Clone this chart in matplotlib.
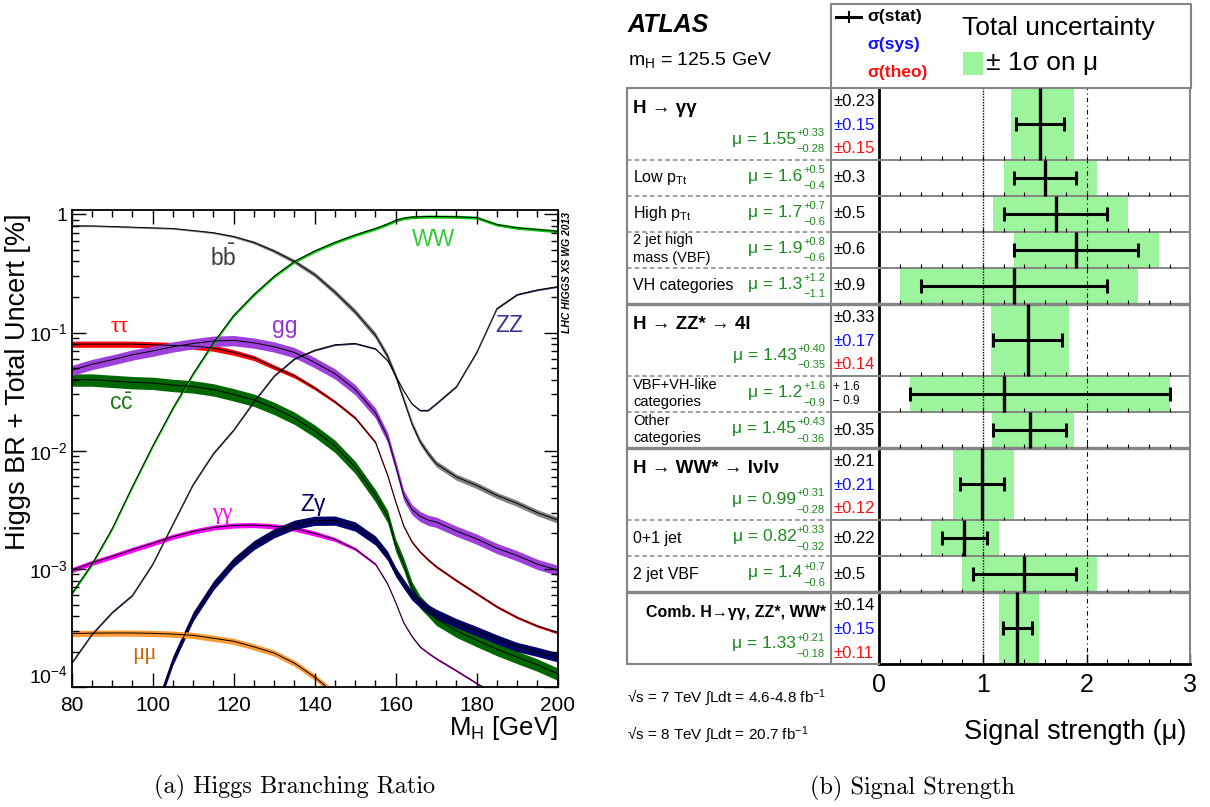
import numpy as np
import matplotlib
matplotlib.use('Agg')
import matplotlib.pyplot as plt
from matplotlib.patches import Rectangle
from matplotlib.ticker import (FixedLocator, FixedFormatter, MultipleLocator,
                               LogLocator, NullFormatter)

plt.rcParams['font.family'] = ['Liberation Sans', 'DejaVu Sans']
plt.rcParams['mathtext.fontset'] = 'custom'
plt.rcParams['mathtext.rm'] = 'Liberation Sans'
plt.rcParams['mathtext.it'] = 'Liberation Sans:italic'
plt.rcParams['mathtext.bf'] = 'Liberation Sans:bold'
plt.rcParams['mathtext.default'] = 'regular'

nan = np.nan

# ---------------- (a) Higgs branching ratios vs mass ----------------
mass = [80, 85, 90, 95, 100, 105, 110, 115, 120, 125, 130, 135, 140, 145, 150,
        155, 158, 160, 162, 164, 166, 168, 170, 175, 180, 185, 190, 195, 200]

br_bb = [0.80, 0.80, 0.79, 0.78, 0.77, 0.76, 0.73, 0.70, 0.65, 0.58, 0.49, 0.40,
         0.31, 0.22, 0.15, 0.095, 0.063, 0.043, 0.027, 0.017, 0.012, 0.0095,
         0.0078, 0.0060, 0.0051, 0.0042, 0.0036, 0.0030, 0.0026]
br_tautau = [0.080, 0.080, 0.080, 0.080, 0.079, 0.078, 0.077, 0.074, 0.068, 0.061,
             0.051, 0.043, 0.034, 0.026, 0.019, 0.0118, 0.0062, 0.0037, 0.0023,
             0.0017, 0.0014, 0.0012, 0.00105, 8.0e-4, 6.2e-4, 4.8e-4, 3.9e-4,
             3.3e-4, 2.9e-4]
br_gg = [0.048, 0.054, 0.059, 0.065, 0.070, 0.076, 0.081, 0.085, 0.086, 0.082,
         0.076, 0.068, 0.056, 0.045, 0.033, 0.021, 0.013, 0.0075, 0.0042, 0.0032,
         0.0028, 0.0026, 0.0025, 0.0021, 0.0018, 0.0015, 0.0013, 0.0011, 0.00098]
br_cc = [0.040, 0.040, 0.039, 0.038, 0.0375, 0.036, 0.035, 0.033, 0.030, 0.027,
         0.023, 0.019, 0.0148, 0.0110, 0.0073, 0.0042, 0.0028, 0.0016, 0.0011,
         7.0e-4, 5.3e-4, 4.5e-4, 3.8e-4, 3.0e-4, 2.5e-4, 2.1e-4, 1.8e-4, 1.55e-4,
         1.3e-4]
br_ww = [6.2e-4, 1.1e-3, 2.2e-3, 5.0e-3, 0.011, 0.023, 0.045, 0.082, 0.14, 0.21,
         0.30, 0.40, 0.49, 0.58, 0.67, 0.76, 0.83, 0.89, 0.93, 0.95, 0.955, 0.96,
         0.96, 0.955, 0.94, 0.82, 0.77, 0.745, 0.72]
br_zz = [1.6e-4, 2.8e-4, 4.3e-4, 6.0e-4, 1.1e-3, 2.4e-3, 5.2e-3, 9.5e-3, 0.015,
         0.026, 0.043, 0.060, 0.071, 0.079, 0.081, 0.073, 0.058, 0.043, 0.032,
         0.025, 0.022, 0.022, 0.025, 0.035, 0.068, 0.16, 0.21, 0.23, 0.245]
br_aa = [9.8e-4, 1.13e-3, 1.28e-3, 1.46e-3, 1.65e-3, 1.88e-3, 2.08e-3, 2.25e-3,
         2.34e-3, 2.36e-3, 2.30e-3, 2.20e-3, 2.0e-3, 1.78e-3, 1.48e-3, 1.1e-3,
         7.5e-4, 5.2e-4, 3.5e-4, 2.7e-4, 2.2e-4, 1.95e-4, 1.75e-4, 1.38e-4,
         1.08e-4, 8.6e-5, nan, nan, nan]
br_za = [nan, nan, nan, nan, 5.5e-5, 1.7e-4, 4.0e-4, 7.3e-4, 1.15e-3, 1.6e-3,
         2.02e-3, 2.38e-3, 2.57e-3, 2.58e-3, 2.3e-3, 1.75e-3, 1.3e-3, 9.5e-4,
         7.5e-4, 6.0e-4, 5.2e-4, 4.6e-4, 4.2e-4, 3.5e-4, 3.0e-4, 2.55e-4, 2.2e-4,
         2.0e-4, 1.8e-4]
br_mumu = [2.85e-4, 2.87e-4, 2.88e-4, 2.88e-4, 2.86e-4, 2.82e-4, 2.75e-4, 2.6e-4,
           2.45e-4, 2.2e-4, 1.95e-4, 1.6e-4, 1.22e-4, 8.8e-5, nan, nan, nan, nan,
           nan, nan, nan, nan, nan, nan, nan, nan, nan, nan, nan]

# relative total uncertainty (half width of the band)
unc_bb = [0.015, 0.015, 0.015, 0.015, 0.015, 0.015, 0.016, 0.018, 0.022, 0.028,
          0.034, 0.040, 0.045, 0.050, 0.055, 0.060, 0.060, 0.060, 0.060, 0.060,
          0.060, 0.060, 0.060, 0.060, 0.060, 0.060, 0.060, 0.060, 0.060]
unc_tautau = [0.06, 0.06, 0.06, 0.06, 0.06, 0.06, 0.06, 0.06, 0.055, 0.05, 0.045,
              0.04, 0.035, 0.03, 0.028, 0.026, 0.025, 0.025, 0.025, 0.025, 0.025,
              0.025, 0.025, 0.025, 0.025, 0.025, 0.025, 0.025, 0.025]
unc_aa = [0.05, 0.05, 0.05, 0.05, 0.05, 0.05, 0.05, 0.05, 0.05, 0.05, 0.05, 0.05,
          0.05, 0.04, 0.03, 0.025, 0.02, 0.02, 0.02, 0.02, 0.02, 0.02, 0.02, 0.02,
          0.02, 0.02, 0.02, 0.02, 0.02]
unc_gg = 0.10
unc_cc = 0.12
unc_ww = 0.03
unc_zz = 0.015
unc_za = 0.09
unc_mumu = 0.06

W, H = 1210, 807
fig = plt.figure(figsize=(W / 100, H / 100), dpi=100)


def px_box(x0, y0, x1, y1):
    return [x0 / W, 1 - y1 / H, (x1 - x0) / W, (y1 - y0) / H]


ax1 = fig.add_axes(px_box(71.7, 210, 557.7, 687.3))
ax1.set_yscale('log')
ax1.set_xlim(80, 200)
ax1.set_ylim(1e-4, 1.09)

m = np.array(mass)
curves = [
    (br_bb, unc_bb, '#808080'),
    (br_tautau, unc_tautau, '#ff0000'),
    (br_cc, unc_cc, '#006600'),
    (br_gg, unc_gg, '#9e40dc'),
    (br_aa, unc_aa, '#ff00ff'),
    (br_za, unc_za, '#000066'),
    (br_mumu, unc_mumu, '#ff9933'),
    (br_ww, unc_ww, '#00cc00'),
    (br_zz, unc_zz, '#333366'),
]
for br, unc, col in curves:
    br = np.array(br)
    u = np.array(unc)
    ax1.fill_between(m, br * (1 - u), br * (1 + u), color=col, lw=0)
    ax1.plot(m, br, color='k', lw=0.7)

ax1.xaxis.set_major_locator(MultipleLocator(20))
ax1.xaxis.set_minor_locator(MultipleLocator(5))
ax1.yaxis.set_major_locator(FixedLocator([1e-4, 1e-3, 1e-2, 1e-1, 1]))
ax1.yaxis.set_major_formatter(FixedFormatter(
    ['$10^{-4}$', '$10^{-3}$', '$10^{-2}$', '$10^{-1}$', '1']))
ax1.yaxis.set_minor_locator(LogLocator(base=10, subs=np.arange(2, 10)))
ax1.yaxis.set_minor_formatter(NullFormatter())
ax1.tick_params(which='both', direction='in', top=True, right=True, width=1)
ax1.tick_params(which='major', length=10, labelsize=15, pad=6)
ax1.tick_params(axis='y', which='major', labelsize=14, pad=3)
ax1.tick_params(which='minor', length=5)
for s in ax1.spines.values():
    s.set_linewidth(1.3)
# the lowest decade label sits just above the axis corner
ax1.get_yticklabels()[0].set_verticalalignment('bottom')

# ---------------- (b) signal strength ----------------
rows = ['H → γγ', 'Low p$_{\\mathrm{Tt}}$', 'High p$_{\\mathrm{Tt}}$',
        '2 jet high\nmass (VBF)', 'VH categories',
        'H → ZZ* → 4l', 'VBF+VH-like\ncategories', 'Other\ncategories',
        'H → WW* → lνlν', '0+1 jet', '2 jet VBF',
        'Comb. H→γγ, ZZ*, WW*']
mu = [1.55, 1.6, 1.7, 1.9, 1.3, 1.43, 1.2, 1.45, 0.99, 0.82, 1.4, 1.33]
tot_up = [0.33, 0.5, 0.7, 0.8, 1.2, 0.40, 1.6, 0.43, 0.31, 0.33, 0.7, 0.21]
tot_dn = [0.28, 0.4, 0.6, 0.6, 1.1, 0.35, 0.9, 0.36, 0.28, 0.32, 0.6, 0.18]
stat_up = [0.23, 0.3, 0.5, 0.6, 0.9, 0.33, 1.6, 0.35, 0.21, 0.22, 0.5, 0.14]
stat_dn = [0.23, 0.3, 0.5, 0.6, 0.9, 0.33, 0.9, 0.35, 0.21, 0.22, 0.5, 0.14]
sys_err = [0.15, nan, nan, nan, nan, 0.17, nan, nan, 0.21, nan, nan, 0.15]
theo_err = [0.15, nan, nan, nan, nan, 0.14, nan, nan, 0.12, nan, nan, 0.11]
n_dec = [2, 1, 1, 1, 1, 2, 1, 2, 2, 2, 1, 2]
row_size = [2, 1, 1, 1, 1, 2, 1, 1, 2, 1, 1, 2]

size = np.array(row_size)
bottoms = np.cumsum(size)
tops = bottoms - size
centers = tops + size / 2
n_units = bottoms[-1]
group_edges = tops[size == 2][1:]

box_green = '#9cf59c'
txt_green = '#1f8a1f'
frame_grey = '#858585'

ax2 = fig.add_axes(px_box(879.3, 87.7, 1190.3, 664.3))
ax2.set_xlim(0, 3)
ax2.set_ylim(n_units, 0)
mu_a = np.array(mu)
ax2.barh(centers, np.array(tot_up) + np.array(tot_dn), left=mu_a - np.array(tot_dn),
         height=size, color=box_green, lw=0, zorder=1)
ax2.axvline(1, color='k', lw=1.0, ls=(0, (1, 1)), zorder=2)
ax2.axvline(2, color='k', lw=0.8, ls=(0, (4, 3, 1, 3)), zorder=2)
tick_pos = np.arange(1, 15) * 0.2
for b in bottoms[:-1]:
    ax2.axhline(b, color=frame_grey, lw=2.4 if b in group_edges else 1.4, zorder=3)
    ax2.vlines(tick_pos, b - 0.1, b, color='k', lw=0.8, zorder=3)
ax2.errorbar(mu_a, centers, xerr=[stat_dn, stat_up], fmt='none', ecolor='k',
             elinewidth=2.2, capsize=5, capthick=2.2, zorder=5)
ax2.vlines(mu_a, tops, bottoms, color='k', lw=2.4, zorder=5)

ax2.xaxis.set_major_locator(MultipleLocator(1))
ax2.xaxis.set_minor_locator(MultipleLocator(0.2))
ax2.tick_params(axis='x', which='major', direction='in', length=7, width=1,
                labelsize=18, pad=6)
ax2.tick_params(axis='x', which='minor', direction='in', length=3.5, width=0.8)
ax2.tick_params(axis='y', which='both', left=False, labelleft=False)
for side in ('left', 'bottom'):
    ax2.spines[side].set_linewidth(2)
for side in ('top', 'right'):
    ax2.spines[side].set_color(frame_grey)
    ax2.spines[side].set_linewidth(1.5)

# label and value columns of the table
x_left, x_div, x_axis = 627.3, 830.7, 879.3
ax_tab = fig.add_axes(px_box(x_left, 87.7, x_axis, 664.3))
ax_tab.set_xlim(x_left, x_axis)
ax_tab.set_ylim(n_units, 0)
ax_tab.axis('off')

line_kw = dict(color=frame_grey, clip_on=False)
ax_tab.plot([x_left, x_left], [0, n_units], lw=1.5, **line_kw)
ax_tab.plot([x_div, x_div], [0, n_units], lw=1.5, **line_kw)
ax_tab.plot([x_left, x_axis], [0, 0], lw=1.5, **line_kw)
ax_tab.plot([x_left, x_axis], [n_units, n_units], lw=1.5, **line_kw)
for b in bottoms[:-1]:
    if b in group_edges:
        ax_tab.plot([x_left, x_axis], [b, b], lw=2.4, **line_kw)
    else:
        ax_tab.plot([x_left, x_div], [b, b], lw=1.1, ls=(0, (3, 2)), **line_kw)
        ax_tab.plot([x_div, x_axis], [b, b], lw=1.4, **line_kw)

renderer = fig.canvas.get_renderer()


def mu_label(y_base, val, up, dn, nd):
    x_r = 825
    fmt = '{:.%df}' % nd
    t_up = ax_tab.text(x_r, y_base - 0.21, '+' + fmt.format(up), fontsize=8,
                       color=txt_green, ha='right', va='baseline')
    t_dn = ax_tab.text(x_r, y_base + 0.24, '\u2212' + fmt.format(dn), fontsize=8,
                       color=txt_green, ha='right', va='baseline')
    w = max(t.get_window_extent(renderer).width for t in (t_up, t_dn))
    ax_tab.text(x_r - w - 0.5, y_base, '\u03bc = ' + fmt.format(val), fontsize=12.5,
                color=txt_green, ha='right', va='baseline')


for i, label in enumerate(rows):
    top, c, nd = tops[i], centers[i], n_dec[i]
    fmt = '{:.%df}' % nd
    if size[i] == 2:
        if i == len(rows) - 1:
            ax_tab.text(826, top + 0.57, label, fontsize=11.5, fontweight='bold',
                        ha='right', va='center')
        else:
            ax_tab.text(633, top + 0.57, label, fontsize=13.5, fontweight='bold',
                        ha='left', va='center')
        mu_label(top + 1.55, mu[i], tot_up[i], tot_dn[i], nd)
        ax_tab.text(833, top + 0.38, '\u00b1' + fmt.format(stat_up[i]), fontsize=12,
                    color='k', va='center')
        ax_tab.text(833, top + 1.04, '\u00b1' + fmt.format(sys_err[i]), fontsize=12,
                    color='#1010ff', va='center')
        ax_tab.text(833, top + 1.69, '\u00b1' + fmt.format(theo_err[i]), fontsize=12,
                    color='#ff1010', va='center')
    else:
        if '\n' in label:
            l1, l2 = label.split('\n')
            ax_tab.text(633, top + 0.24, l1, fontsize=10.5, va='center')
            ax_tab.text(633, top + 0.73, l2, fontsize=10.5, va='center')
        else:
            ax_tab.text(633, c, label, fontsize=11.5, va='center')
        mu_label(c + 0.08, mu[i], tot_up[i], tot_dn[i], nd)
        if stat_up[i] == stat_dn[i]:
            ax_tab.text(833, c, '\u00b1' + fmt.format(stat_up[i]), fontsize=12,
                        va='center')
        else:
            ax_tab.text(833, top + 0.3, '+ ' + fmt.format(stat_up[i]), fontsize=8.5,
                        va='center')
            ax_tab.text(833, top + 0.69, '\u2212 ' + fmt.format(stat_dn[i]),
                        fontsize=8.5, va='center')

# ---------------- free text, header box and captions (pixel coordinates) ----
ax_px = fig.add_axes([0, 0, 1, 1])
ax_px.set_xlim(0, W)
ax_px.set_ylim(H, 0)
ax_px.axis('off')

ax_px.text(25, 213, 'Higgs BR + Total Uncert [%]', fontsize=19.5, rotation=90,
           rotation_mode='anchor', ha='right', va='baseline')
ax_px.text(558, 735, 'M$_{\\mathrm{H}}$ [GeV]', fontsize=18.5, ha='right',
           va='baseline')
ax_px.text(570, 212, 'LHC HIGGS XS WG 2013', fontsize=7.5, fontweight='bold',
           fontstyle='italic', rotation=90, rotation_mode='anchor', ha='right',
           va='baseline')

serif_greek = ['Liberation Serif', 'DejaVu Serif']
ax_px.text(223, 258, 'b$\\bar{b}$', fontsize=16.5, color='#3d3d3d',
           ha='center', va='center')
ax_px.text(120, 327, 'ττ', fontsize=16.5, color='#ff0000', ha='center',
           va='center', family=serif_greek)
ax_px.text(285, 327, 'gg', fontsize=16.5, color='#9933cc', ha='center',
           va='center')
ax_px.text(121, 403, 'c$\\bar{c}$', fontsize=16.5, color='#1a7a1a',
           ha='center', va='center')
ax_px.text(434, 240, 'WW', fontsize=16.5, color='#33cc33', ha='center',
           va='center')
ax_px.text(509, 326, 'ZZ', fontsize=16.5, color='#333399', ha='center',
           va='center')
ax_px.text(222, 513, 'γγ', fontsize=16.5, color='#ff00ff', ha='center',
           va='center', family=serif_greek)
ax_px.text(313, 505, 'Zγ', fontsize=16.5, color='#000066', ha='center',
           va='center')
ax_px.text(144, 653, 'μμ', fontsize=16.5, color='#cc6600', ha='center',
           va='center', family=serif_greek)

# header of the signal strength panel
ax_px.text(628, 25, 'ATLAS', fontsize=18, fontweight='bold', fontstyle='italic',
           va='center')
ax_px.text(628, 60, 'm$_{\\mathrm{H}}$ = 125.5 GeV', fontsize=14, va='center')
ax_px.plot([830.7, 830.7, 1191, 1191], [87.7, 4, 4, 87.7], color=frame_grey,
           lw=1.5)
ax_px.plot([836, 861], [17, 17], color='k', lw=2.2)
ax_px.plot([848.5, 848.5], [12, 22], color='k', lw=1.5)
ax_px.text(867, 17, 'σ(stat)', fontsize=12.5, fontweight='bold', va='center')
ax_px.text(867, 45, 'σ(sys)', fontsize=12.5, fontweight='bold', color='#1010ff',
           va='center')
ax_px.text(867, 73, 'σ(theo)', fontsize=12.5, fontweight='bold', color='#ff1010',
           va='center')
ax_px.text(962, 28, 'Total uncertainty', fontsize=19, va='center')
ax_px.add_patch(Rectangle((962.5, 51.7), 20.3, 23.3, color=box_green, lw=0))
ax_px.text(986, 63, '± 1σ on μ', fontsize=19, va='center')

ax_px.text(627, 698, '√s = 7 TeV ∫Ldt = 4.6-4.8 fb$^{-1}$', fontsize=11,
           va='center')
ax_px.text(627, 735, '√s = 8 TeV ∫Ldt = 20.7 fb$^{-1}$', fontsize=11,
           va='center')
ax_px.text(1186, 732, 'Signal strength (μ)', fontsize=19.5, ha='right',
           va='center')

ax_px.text(295, 787, '(a) Higgs Branching Ratio', fontsize=17.5, family='cmr10',
           ha='center', va='center')
ax_px.text(912, 788, '(b) Signal Strength', fontsize=17.5, family='cmr10',
           ha='center', va='center')

fig.savefig('out.png', dpi=100)
